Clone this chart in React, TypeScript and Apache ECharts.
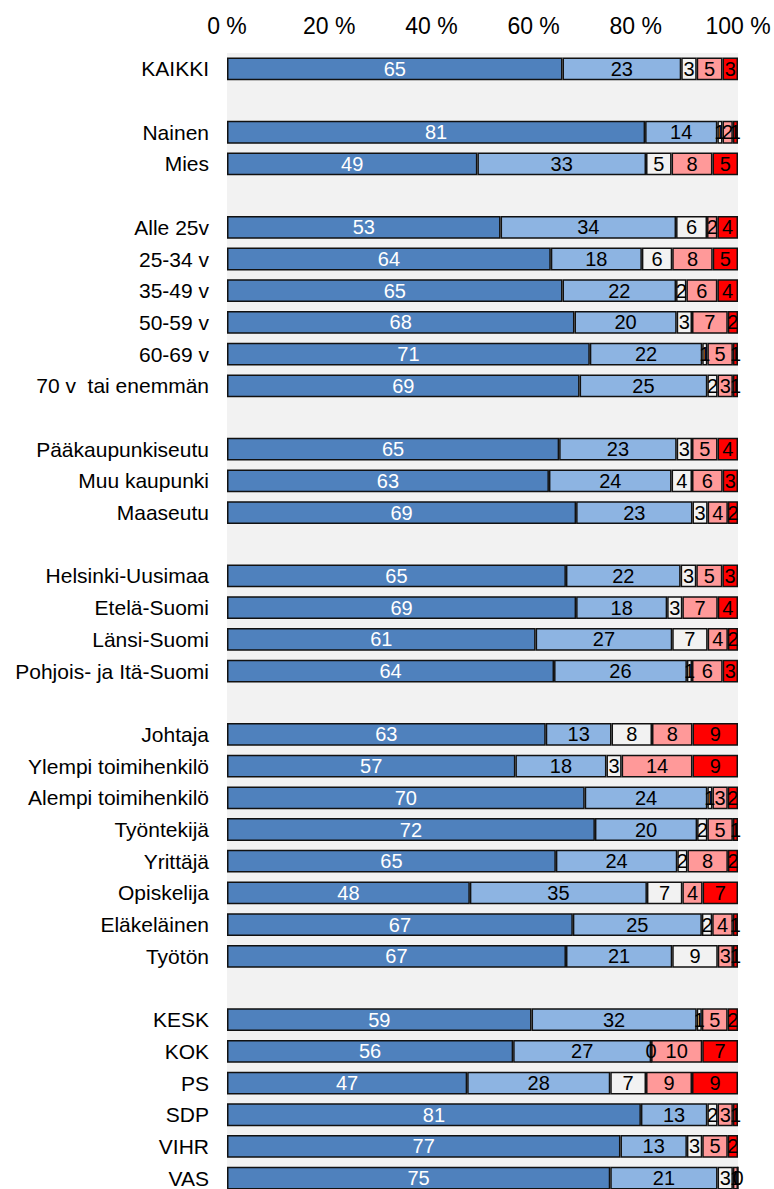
import React, { useEffect, useRef } from "react";
import * as echarts from "echarts";

const categories: string[] = [
  "KAIKKI", " ",
  "Nainen", "Mies", "  ",
  "Alle 25v", "25-34 v", "35-49 v", "50-59 v", "60-69 v", "70 v  tai enemmän", "   ",
  "Pääkaupunkiseutu", "Muu kaupunki", "Maaseutu", "    ",
  "Helsinki-Uusimaa", "Etelä-Suomi", "Länsi-Suomi", "Pohjois- ja Itä-Suomi", "     ",
  "Johtaja", "Ylempi toimihenkilö", "Alempi toimihenkilö", "Työntekijä", "Yrittäjä", "Opiskelija", "Eläkeläinen", "Työtön", "      ",
  "KESK", "KOK", "PS", "SDP", "VIHR", "VAS",
];

const s1: (number | null)[] = [65, null, 81, 49, null, 53, 64, 65, 68, 71, 69, null, 65, 63, 69, null, 65, 69, 61, 64, null, 63, 57, 70, 72, 65, 48, 67, 67, null, 59, 56, 47, 81, 77, 75];
const s2: (number | null)[] = [23, null, 14, 33, null, 34, 18, 22, 20, 22, 25, null, 23, 24, 23, null, 22, 18, 27, 26, null, 13, 18, 24, 20, 24, 35, 25, 21, null, 32, 27, 28, 13, 13, 21];
const s3: (number | null)[] = [3, null, 1, 5, null, 6, 6, 2, 3, 1, 2, null, 3, 4, 3, null, 3, 3, 7, 1, null, 8, 3, 1, 2, 2, 7, 2, 9, null, 1, 0, 7, 2, 3, 3];
const s4: (number | null)[] = [5, null, 2, 8, null, 2, 8, 6, 7, 5, 3, null, 5, 6, 4, null, 5, 7, 4, 6, null, 8, 14, 3, 5, 8, 4, 4, 3, null, 5, 10, 9, 3, 5, 1];
const s5: (number | null)[] = [3, null, 1, 5, null, 4, 5, 4, 2, 1, 1, null, 4, 3, 2, null, 3, 4, 2, 3, null, 9, 9, 2, 1, 2, 7, 1, 1, null, 2, 7, 9, 1, 2, 0];

const seriesNames = ["1", "2", "3", "4", "5"];
const seriesColors = ["#4f81bd", "#8db4e2", "#f2f2f2", "#ff9999", "#ff0000"];
const labelColors = ["#ffffff", "#000000", "#000000", "#000000", "#000000"];
const xTicks = [0, 20, 40, 60, 80, 100];

export default function App() {
  const ref = useRef<HTMLDivElement>(null);
  useEffect(() => {
    if (!ref.current) return;
    const chart = echarts.init(ref.current, null, { renderer: "svg" });
    const all = [s1, s2, s3, s4, s5];
    const sums = categories.map((_, i) => {
      let t = 0;
      let any = false;
      all.forEach((s) => {
        if (s[i] != null) {
          t += s[i] as number;
          any = true;
        }
      });
      return any ? t : null;
    });
    const series = all.map((arr, k) => ({
      name: seriesNames[k],
      type: "bar",
      stack: "total",
      barWidth: "72%",
      itemStyle: { color: seriesColors[k], borderColor: "#111111", borderWidth: 1.5 },
      label: {
        show: true,
        position: "inside",
        color: labelColors[k],
        fontSize: 20,
        fontFamily: "Liberation Sans, Arial, sans-serif",
        formatter: (p: any) => (p.data && p.data.raw != null ? String(p.data.raw) : ""),
      },
      data: arr.map((v, i) =>
        v == null || sums[i] == null ? null : { value: (v / (sums[i] as number)) * 100, raw: v }
      ),
    }));
    chart.setOption({
      animation: false,
      backgroundColor: "#ffffff",
      grid: {
        left: 227,
        right: 36,
        top: 53,
        bottom: 6,
        show: true,
        backgroundColor: "#f2f2f2",
        borderWidth: 0,
      },
      xAxis: {
        type: "value",
        position: "top",
        min: 0,
        max: 100,
        interval: 20,
        axisLine: { show: false },
        axisTick: { show: false },
        splitLine: { show: false },
        axisLabel: {
          fontSize: 23,
          color: "#000000",
          margin: 16,
          fontFamily: "Liberation Sans, Arial, sans-serif",
          formatter: (v: number) => (xTicks.indexOf(v) >= 0 ? v + " %" : ""),
        },
      },
      yAxis: {
        type: "category",
        inverse: true,
        data: categories,
        axisLine: { show: false },
        axisTick: { show: false },
        splitLine: { show: false },
        axisLabel: {
          fontSize: 21,
          color: "#000000",
          margin: 18,
          fontFamily: "Liberation Sans, Arial, sans-serif",
        },
      },
      series,
    });
    return () => chart.dispose();
  }, []);
  return (
    <div style={{ position: "fixed", left: 0, top: 0, width: 774, height: 1189, overflow: "hidden", background: "#fff" }}>
      <div ref={ref} style={{ width: 774, height: 1200 }} />
    </div>
  );
}
